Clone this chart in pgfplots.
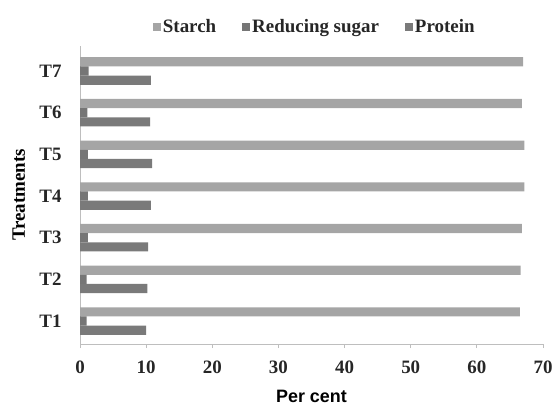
\documentclass[border=0pt]{standalone}
\usepackage{pgfplots}
\pgfplotsset{compat=1.18}
\usepackage{fontspec}
\setmainfont{Liberation Serif}
\newfontfamily\arialfont{Liberation Sans}
\definecolor{starchc}{RGB}{165,165,165}
\definecolor{sugarc}{RGB}{118,118,118}
\definecolor{protc}{RGB}{122,122,122}
\definecolor{axc}{RGB}{190,190,190}
\begin{document}
\begin{tikzpicture}
\begin{axis}[
  name=ax,
  scale only axis,
  width=463bp, height=298bp,
  xmin=0, xmax=70,
  ymin=0.45, ymax=7.6,
  xtick={0,10,...,70},
  ytick={1,2,3,4,5,6,7},
  yticklabels={T1,T2,T3,T4,T5,T6,T7},
  axis x line*=bottom,
  axis y line*=left,
  axis line style={draw=axc, line width=0.8bp, -},
  x tick style={draw=axc, line width=0.8bp},
  tick align=outside,
  major tick length=4bp,
  y tick style={draw=none},
  /pgf/number format/assume math mode=true,
  ticklabel style={font=\fontsize{19}{22}\selectfont\bfseries, text=black!85},
  xticklabel style={yshift=-9bp},
  yticklabel style={xshift=-11bp},
  xlabel={Per cent},
  xlabel style={font=\arialfont\fontsize{18}{20}\selectfont\bfseries, at={(axis description cs:0.5,-0.175)}, anchor=center},
  ylabel={Treatments},
  ylabel style={font=\fontsize{19}{22}\selectfont\bfseries, at={(axis description cs:-0.132,0.5)}, anchor=center},
  legend columns=3,
  legend style={draw=none, fill=none, at={(axis description cs:0.507,1.064)}, anchor=center,
    font=\fontsize{19}{22}\selectfont\bfseries, text=black!85,
    /tikz/every even column/.append style={column sep=24bp}},
  legend image code/.code={\fill[#1,/tikz/.cd] (0bp,-4bp) rectangle (8bp,4bp);},
]
\addplot[xbar, bar width=0.22, bar shift=0.22, fill=starchc, draw=none] coordinates {
  (66.5,1) (66.6,2) (66.8,3) (67.2,4) (67.2,5) (66.8,6) (67.0,7)};
\addlegendentry{Starch}
\addplot[xbar, bar width=0.22, bar shift=0, fill=sugarc, draw=none] coordinates {
  (1.0,1) (1.0,2) (1.2,3) (1.2,4) (1.2,5) (1.1,6) (1.3,7)};
\addlegendentry{Reducing sugar}
\addplot[xbar, bar width=0.22, bar shift=-0.22, fill=protc, draw=none] coordinates {
  (10.0,1) (10.2,2) (10.3,3) (10.7,4) (10.9,5) (10.6,6) (10.7,7)};
\addlegendentry{Protein}
\end{axis}
\pgfresetboundingbox
\path[use as bounding box] ([xshift=-80bp,yshift=-61bp]ax.south west) rectangle ([xshift=12bp,yshift=46bp]ax.north east);
\end{tikzpicture}
\end{document}
